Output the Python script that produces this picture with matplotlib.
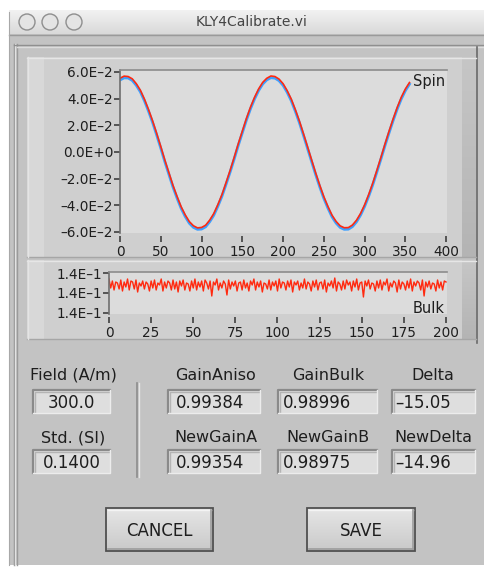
"""
plot.py - KLY4Calibrate.vi panel redrawn with matplotlib.
"""

import matplotlib

matplotlib.use("Agg")
import matplotlib.pyplot as plt
import numpy as np
from matplotlib.patches import Circle, Rectangle

W, H = 484, 567

# ---- data ----
spin_x = list(range(0, 360, 5))
spin_red = [
    0.0553, 0.0569, 0.0566, 0.0549, 0.0512, 0.0463, 0.0396, 0.0318, 0.0233, 0.0139,
    0.0041, -0.0061, -0.0156, -0.0251, -0.0334, -0.0411, -0.0472, -0.0522, -0.0553, -0.0569,
    -0.0566, -0.0549, -0.0511, -0.0462, -0.0395, -0.0320, -0.0231, -0.0139, -0.0041, 0.0061,
    0.0156, 0.0251, 0.0336, 0.0410, 0.0473, 0.0522, 0.0553, 0.0570, 0.0566, 0.0547,
    0.0512, 0.0460, 0.0397, 0.0318, 0.0232, 0.0137, 0.0039, -0.0060, -0.0158, -0.0250,
    -0.0336, -0.0409, -0.0474, -0.0521, -0.0554, -0.0568, -0.0567, -0.0548, -0.0512, -0.0461,
    -0.0396, -0.0319, -0.0233, -0.0138, -0.0040, 0.0061, 0.0157, 0.0249, 0.0335, 0.0411,
    0.0473, 0.0521,
]
spin_blue = [
    0.0540, 0.0556, 0.0555, 0.0537, 0.0500, 0.0451, 0.0384, 0.0306, 0.0221, 0.0127,
    0.0029, -0.0073, -0.0168, -0.0263, -0.0346, -0.0423, -0.0484, -0.0534, -0.0565, -0.0580,
    -0.0578, -0.0561, -0.0523, -0.0474, -0.0407, -0.0332, -0.0243, -0.0151, -0.0053, 0.0049,
    0.0144, 0.0239, 0.0324, 0.0398, 0.0461, 0.0510, 0.0541, 0.0557, 0.0554, 0.0535,
    0.0500, 0.0448, 0.0385, 0.0306, 0.0220, 0.0125, 0.0027, -0.0072, -0.0170, -0.0262,
    -0.0348, -0.0421, -0.0486, -0.0533, -0.0566, -0.0580, -0.0579, -0.0560, -0.0524, -0.0473,
    -0.0408, -0.0331, -0.0245, -0.0150, -0.0052, 0.0049, 0.0145, 0.0237, 0.0323, 0.0399,
    0.0461, 0.0509,
]
spin_yticks = [-0.06, -0.04, -0.02, 0.0, 0.02, 0.04, 0.06]
spin_ylabels = ["–6.0E–2", "–4.0E–2", "–2.0E–2", "0.0E+0", "2.0E–2", "4.0E–2", "6.0E–2"]
spin_xticks = [0, 50, 100, 150, 200, 250, 300, 350, 400]

# bulk trace, offsets from 0.14 in units of 1e-6
bulk_offsets = [
    70, 25, 60, 15, 55, 50, 20, 65, 10, 55,
    30, 70, 15, 60, 55, 20, 65, 5, 50, 35,
    60, 20, 55, 45, 10, 60, 25, 65, 15, 50,
    40, 70, 10, 55, 25, 60, 50, 15, 65, 20,
    55, 5, 60, 35, 65, 15, 50, 45, 10, 60,
    25, 70, 15, 55, 30, 60, 10, 65, 50, 20,
    60, -15, 55, 40, 70, 15, 50, 25, 60, 45,
    -10, 65, 20, 55, 35, 60, 10, 50, 55, 15,
    65, 25, 50, 10, 60, 40, 70, 15, 55, 30,
    60, 5, 50, 45, 20, 65, 15, 55, 35, 60,
    10, 70, 25, 55, 50, 15, 60, 30, 65, 5,
    55, 40, 60, 15, 50, 25, 70, 20, 55, 45,
    10, 60, 30, 65, 15, 50, 55, 20, 65, 5,
    50, 35, 60, 25, 75, 10, 55, 45, 15, 60,
    20, 65, 40, 55, 10, 60, 30, 70, 15, 50,
    55, -20, 60, 35, 65, 20, 50, 45, 10, 60,
    25, 65, 15, 55, 40, 70, 10, 50, 30, 60,
    50, 5, 65, 20, 55, 45, 15, 60, 25, 70,
    10, 55, 35, 60, 50, 15, 65, -15, 55, 30,
    60, 20, 50, 45, 10, 65, 25, 55, 15, 60,
    55,
]
bulk_yticks = [0.1399, 0.1400, 0.1401]
bulk_ylabels = ["1.4E–1", "1.4E–1", "1.4E–1"]
bulk_xticks = [0, 25, 50, 75, 100, 125, 150, 175, 200]

field_labels = ["Field (A/m)", "Std. (SI)"]
field_values = ["300.0", "0.1400"]
gain_labels = [["GainAniso", "GainBulk", "Delta"], ["NewGainA", "NewGainB", "NewDelta"]]
gain_values = [["0.99384", "0.98996", "–15.05"], ["0.99354", "0.98975", "–14.96"]]
button_labels = ["CANCEL", "SAVE"]

TXT = "#1e1e1e"
FONT = "DejaVu Sans"
plt.rcParams["font.family"] = FONT


def rect(ax, x0, y0, x1, y1, **kw):
    ax.add_patch(Rectangle((x0, y0), x1 - x0, y1 - y0, **kw))


def gradient(ax, x0, y0, x1, y1, c_top, c_bot, vertical=True):
    n = 64
    a = np.array(matplotlib.colors.to_rgb(c_top))
    b = np.array(matplotlib.colors.to_rgb(c_bot))
    t = np.linspace(0, 1, n)[:, None]
    img = a * (1 - t) + b * t
    img = img[:, None, :] if vertical else img[None, :, :]
    ax.imshow(img, extent=(x0, x1, y1, y0), aspect="auto", origin="upper",
              interpolation="bilinear", zorder=1)


def sunken_box(ax, x0, y0, x1, y1):
    rect(ax, x0, y0, x1, y1, facecolor="#dedede", edgecolor="none", zorder=2)
    ax.plot([x0, x0, x1], [y1, y0, y0], color="#8a8a8a", lw=1.6, zorder=3)
    ax.plot([x0 + 1.5, x0 + 1.5, x1], [y1, y0 + 1.5, y0 + 1.5], color="#b4b4b4", lw=1.0, zorder=3)
    ax.plot([x0, x1, x1], [y1, y1, y0], color="#ececec", lw=1.0, zorder=3)


def button(ax, x0, y0, x1, y1, label):
    gradient(ax, x0, y0, x1, y1, "#e6e6e6", "#c9c9c9")
    rect(ax, x0, y0, x1, y1, facecolor="none", edgecolor="#505050", lw=1.3, zorder=3)
    ax.plot([x0 + 2, x1 - 2], [y0 + 2, y0 + 2], color="#f4f4f4", lw=1.0, zorder=3)
    ax.plot([x1 - 2, x1 - 2], [y0 + 2, y1 - 2], color="#9c9c9c", lw=1.2, zorder=3)
    ax.plot([x0 + 2, x1 - 2], [y1 - 2, y1 - 2], color="#9c9c9c", lw=1.2, zorder=3)
    ax.text((x0 + x1) / 2, (y0 + y1) / 2 + 1, label, ha="center", va="center",
            fontsize=12, color=TXT, zorder=4)


def style_graph(ax, xlim, ylim, xticks, yticks, ylabels):
    ax.set_facecolor("#dcdcdc")
    ax.set_xlim(*xlim)
    ax.set_ylim(*ylim)
    ax.set_xticks(xticks)
    ax.set_xticklabels([str(v) for v in xticks])
    ax.set_yticks(yticks)
    ax.set_yticklabels(ylabels)
    for s in ("right", "bottom"):
        ax.spines[s].set_visible(False)
    ax.spines["left"].set_color("#6e6e6e")
    ax.spines["left"].set_linewidth(1.2)
    ax.spines["top"].set_color("#8c8c8c")
    ax.spines["top"].set_linewidth(1.2)
    ax.spines["bottom"].set_position(("outward", 2))
    ax.tick_params(axis="both", direction="out", length=4, width=1.1, color="#333333",
                   labelsize=9.8, labelcolor=TXT)
    ax.tick_params(axis="y", pad=1)
    ax.tick_params(axis="x", pad=2.5)


def main() -> None:
    fig = plt.figure(figsize=(W / 100, H / 100), dpi=100)
    fig.patch.set_facecolor("white")

    ui = fig.add_axes([0, 0, 1, 1])
    ui.set_axis_off()

    # window body and title bar
    rect(ui, 9, 34, W, 565, facecolor="#c3c3c3", edgecolor="none", zorder=0)
    gradient(ui, 9, 10, W, 34, "#f2f2f2", "#d9d9d9")
    ui.plot([9, W], [34.5, 34.5], color="#9a9a9a", lw=1.0, zorder=2)
    ui.plot([9, 9], [12, 565], color="#a8a8a8", lw=0.8, zorder=2)
    for cx in (27, 50, 74):
        ui.add_patch(Circle((cx, 22), 8, facecolor="#e4e4e4", edgecolor="#8e8e8e",
                            lw=1.0, zorder=3))
    ui.text(252, 22, "KLY4Calibrate.vi", ha="center", va="center", fontsize=10,
            color="#444444", zorder=3)

    # left border of the panel
    ui.plot([13.5, 13.5], [44, 565], color="#8f8f8f", lw=1.0, zorder=2)
    ui.plot([15, 15], [44, 565], color="#e2e2e2", lw=1.0, zorder=2)
    ui.plot([16.5, 16.5], [44, 565], color="#9a9a9a", lw=1.0, zorder=2)
    ui.plot([13.5, W], [44.5, 44.5], color="#8f8f8f", lw=1.0, zorder=2)
    ui.plot([16.5, W], [47, 47], color="#dcdcdc", lw=1.0, zorder=2)
    ui.plot([477, 477], [47, 343], color="#6a6a6a", lw=1.2, zorder=2)

    # graph panels
    for y0, y1 in ((57, 257), (260, 339)):
        rect(ui, 27, y0, 476, y1, facecolor="#cfcfcf", edgecolor="none", zorder=1)
        rect(ui, 27, y0, 44, y1, facecolor="#d8d8d8", edgecolor="none", zorder=1)
        gradient(ui, 462, y0, 476, y1, "#c6c6c6", "#b4b4b4", vertical=True)
        ui.plot([27, 476], [y0 + 0.5, y0 + 0.5], color="#e6e6e6", lw=1.0, zorder=2)
        ui.plot([27, 476], [y1 - 0.5, y1 - 0.5], color="#a6a6a6", lw=1.0, zorder=2)
        ui.plot([27.5, 27.5], [y0, y1], color="#e4e4e4", lw=1.0, zorder=2)

    # numeric indicators
    ui.plot([137, 137], [383, 477], color="#8c8c8c", lw=1.2, zorder=2)
    ui.plot([138.5, 138.5], [383, 477], color="#e6e6e6", lw=1.0, zorder=2)
    label_y = (375, 438)
    box_y = ((390, 413), (450, 473))
    for row in range(2):
        ui.text(73, label_y[row], field_labels[row], ha="center", va="center",
                fontsize=11.5, color=TXT, zorder=3)
        b0, b1 = box_y[row]
        sunken_box(ui, 33, b0, 110, b1)
        ui.text(71.5, (b0 + b1) / 2 + 1, field_values[row], ha="center", va="center",
                fontsize=12, color=TXT, zorder=4)
    cols = ((168, 260, 216, 8), (278, 377, 328, 5), (392, 475, 433, 3))
    for row in range(2):
        b0, b1 = box_y[row]
        for col, (x0, x1, xc, pad) in enumerate(cols):
            ui.text(xc, label_y[row], gain_labels[row][col], ha="center", va="center",
                    fontsize=11.5, color=TXT, zorder=3)
            sunken_box(ui, x0, b0, x1, b1)
            ui.text(x0 + pad, (b0 + b1) / 2 + 1, gain_values[row][col], ha="left",
                    va="center", fontsize=12, color=TXT, zorder=4)

    button(ui, 106, 508, 213, 551, button_labels[0])
    button(ui, 307, 508, 415, 551, button_labels[1])

    ui.set_xlim(0, W)
    ui.set_ylim(H, 0)

    # Spin graph
    ax1 = fig.add_axes([120 / W, 1 - 233 / H, 327 / W, 163 / H])
    style_graph(ax1, (0, 401), (-0.06075, 0.0615), spin_xticks, spin_yticks, spin_ylabels)
    ax1.plot(spin_x, spin_blue, color="#3ea0ff", lw=2.0, solid_joinstyle="round")
    ax1.plot(spin_x, spin_red, color="#ff2a10", lw=1.2, solid_joinstyle="round")
    ax1.text(0.995, 0.93, "Spin", transform=ax1.transAxes, ha="right", va="center",
             fontsize=10.5, color=TXT)

    # Bulk graph
    bulk_x = list(range(len(bulk_offsets)))
    bulk = [0.14 + v * 1e-6 for v in bulk_offsets]
    ax2 = fig.add_axes([109 / W, 1 - 314 / H, 337.5 / W, 42 / H])
    style_graph(ax2, (0, 200.3), (0.139895, 0.140105), bulk_xticks, bulk_yticks, bulk_ylabels)
    ax2.plot(bulk_x, bulk, color="#ff2a10", lw=1.0)
    ax2.text(0.995, 0.12, "Bulk", transform=ax2.transAxes, ha="right", va="center",
             fontsize=10.5, color=TXT)

    fig.savefig("out.png", dpi=100)
    plt.close(fig)


if __name__ == "__main__":
    main()
